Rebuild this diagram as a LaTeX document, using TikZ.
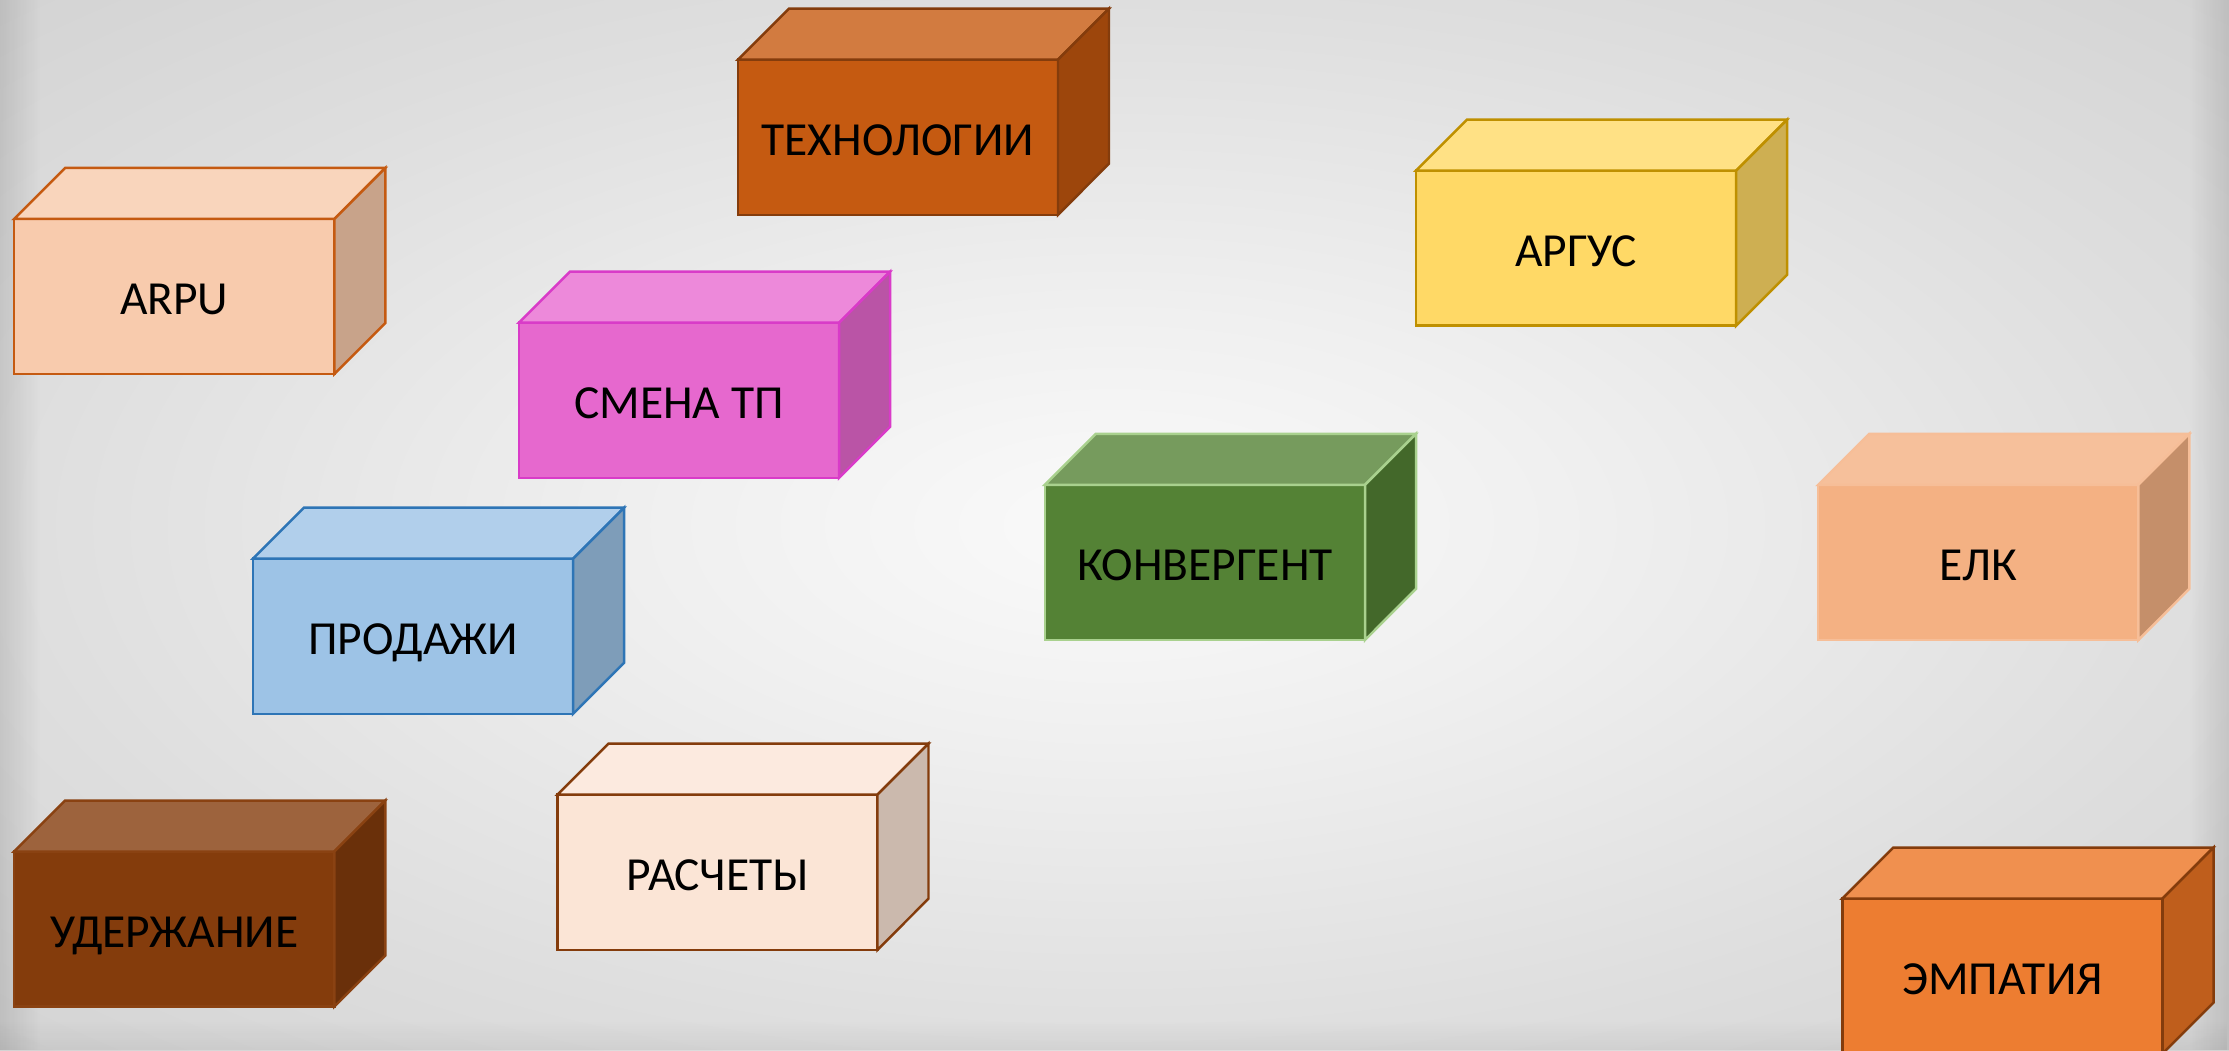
\documentclass[tikz,border=0pt]{standalone}
\usepackage{fontspec}
\setmainfont{Carlito}
\usetikzlibrary{fadings}
\definecolor{bga}{HTML}{FAFAFA}
\definecolor{bgb}{HTML}{F0F0F0}
\definecolor{bgc}{HTML}{DEDEDE}
\definecolor{bgd}{HTML}{D3D3D3}
\pgfdeclareradialshading{bgshade}{\pgfpoint{0bp}{0bp}}{color(0bp)=(bga); color(10bp)=(bgb); color(25bp)=(bgc); color(36bp)=(bgd); color(50bp)=(bgd)}
% colours
\definecolor{arpuF}{HTML}{F8CBAD}\definecolor{arpuT}{HTML}{F9D5BC}\definecolor{arpuS}{HTML}{C8A38A}\definecolor{arpuB}{HTML}{C55A11}
\definecolor{techF}{HTML}{C55A11}\definecolor{techT}{HTML}{D27B40}\definecolor{techS}{HTML}{9D460C}\definecolor{techB}{HTML}{843C0C}
\definecolor{smenF}{HTML}{E668CE}\definecolor{smenT}{HTML}{ED89DA}\definecolor{smenS}{HTML}{BA54A6}\definecolor{smenB}{HTML}{D93BC8}
\definecolor{prodF}{HTML}{9DC3E6}\definecolor{prodT}{HTML}{B1CFEB}\definecolor{prodS}{HTML}{7E9DB9}\definecolor{prodB}{HTML}{2E75B6}
\definecolor{uderF}{HTML}{843C0C}\definecolor{uderT}{HTML}{9D633D}\definecolor{uderS}{HTML}{6A300A}\definecolor{uderB}{HTML}{8A4212}
\definecolor{rascF}{HTML}{FBE5D6}\definecolor{rascT}{HTML}{FCEADF}\definecolor{rascS}{HTML}{CBB9AD}\definecolor{rascB}{HTML}{843C0C}
\definecolor{konvF}{HTML}{548235}\definecolor{konvT}{HTML}{769B5D}\definecolor{konvS}{HTML}{43682A}\definecolor{konvB}{HTML}{A9D18E}
\definecolor{argF}{HTML}{FFD966}\definecolor{argT}{HTML}{FFE185}\definecolor{argS}{HTML}{CEAF52}\definecolor{argB}{HTML}{BF9000}
\definecolor{elkF}{HTML}{F4B183}\definecolor{elkT}{HTML}{F6C09B}\definecolor{elkS}{HTML}{C58F6A}\definecolor{elkB}{HTML}{F6BE98}
\definecolor{empF}{HTML}{ED7D31}\definecolor{empT}{HTML}{F0904F}\definecolor{empS}{HTML}{BF5E1C}\definecolor{empB}{HTML}{843C0C}
\tikzset{
  face/.style={rectangle, minimum width=3.2cm, minimum height=1.55cm, inner sep=0pt, outer sep=0pt,
    text height=10.3pt, text depth=0pt,
    line width=0.7pt, anchor=north west, font=\fontsize{13.5}{16}\selectfont, text=black},
  facet/.style={line width=0.7pt, line join=miter}
}
% name, x, y, text, front, top, side, border
\newcommand\mycube[8]{%
  \node[face, fill=#5, draw=#8] (#1) at (#2,#3) {#4};
  \filldraw[facet, fill=#6, draw=#8] (#1.north west) -- ++(51,-51) -- ++(320,0) -- (#1.north east) -- cycle;
  \filldraw[facet, fill=#7, draw=#8] (#1.north east) -- ++(51,-51) -- ++(0,155) -- (#1.south east) -- cycle;
}
\begin{document}
\begin{tikzpicture}[x=0.01cm,y=-0.01cm]
\useasboundingbox (0,0) rectangle (2229,1050);
\clip (0,0) rectangle (2229,1050);
\shade[shading=bgshade] (0,0) rectangle (2229,1050);
\fill[black, path fading=east, fill opacity=0.10] (0,0) rectangle (40,1050);
\fill[black, path fading=west, fill opacity=0.10] (2189,0) rectangle (2229,1050);
\fill[black, path fading=north, fill opacity=0.05] (0,1020) rectangle (2229,1050);
\mycube{tech}{737.8}{59.7}{ТЕХНОЛОГИИ}{techF}{techT}{techS}{techB}
\mycube{arpu}{14.2}{218.9}{ARPU}{arpuF}{arpuT}{arpuS}{arpuB}
\mycube{smena}{518.9}{322.7}{СМЕНА ТП}{smenF}{smenT}{smenS}{smenB}
\mycube{prod}{253.0}{558.7}{ПРОДАЖИ}{prodF}{prodT}{prodS}{prodB}
\mycube{uder}{14.2}{851.5}{УДЕРЖАНИЕ}{uderF}{uderT}{uderS}{uderB}
\mycube{rasc}{557.3}{794.7}{РАСЧЕТЫ}{rascF}{rascT}{rascS}{rascB}
\mycube{konv}{1044.9}{484.8}{КОНВЕРГЕНТ}{konvF}{konvT}{konvS}{konvB}
\mycube{argus}{1416.0}{170.6}{АРГУС}{argF}{argT}{argS}{argB}
\mycube{elk}{1818.2}{484.8}{ЕЛК}{elkF}{elkT}{elkS}{elkB}
\mycube{emp}{1842.4}{898.5}{ЭМПАТИЯ}{empF}{empT}{empS}{empB}
\end{tikzpicture}
\end{document}
